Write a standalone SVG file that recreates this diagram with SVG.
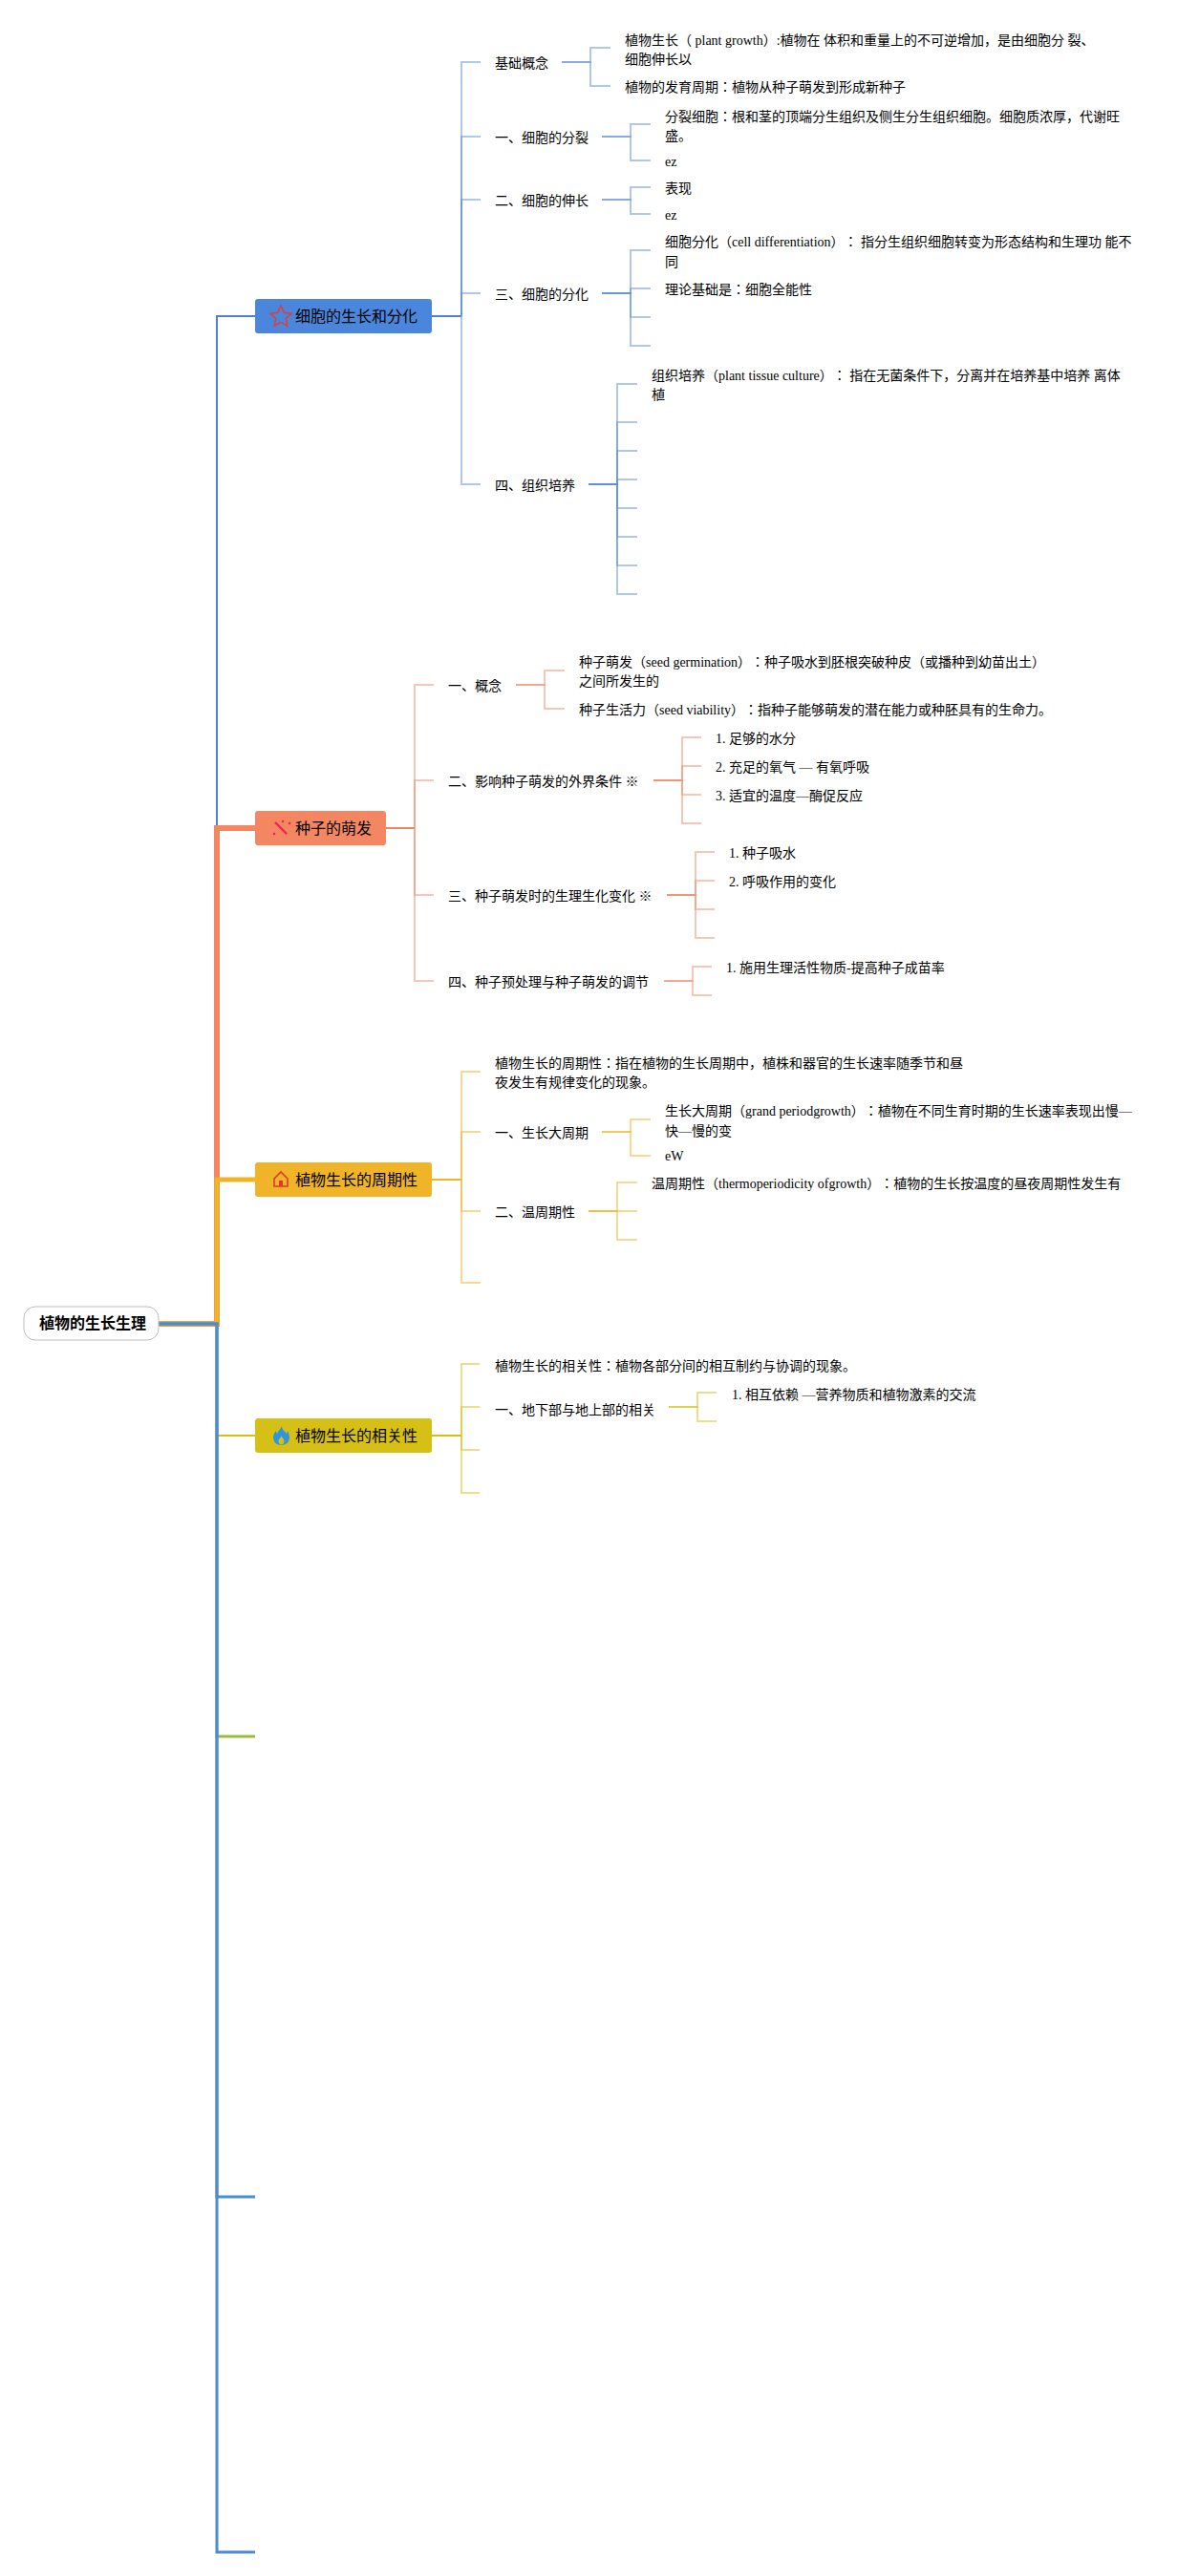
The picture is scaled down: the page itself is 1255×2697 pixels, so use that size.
<svg xmlns="http://www.w3.org/2000/svg" width="1255" height="2697" viewBox="0 0 1255 2697">
<style>
text{font-family:"Liberation Serif","Noto Sans CJK JP",serif;font-size:14px;fill:#000;text-spacing-trim:space-all}
.b{font-family:"Liberation Sans","Noto Sans CJK JP",sans-serif;font-size:16px}
.r{font-family:"Liberation Sans","Noto Sans CJK JP",sans-serif;font-size:16px;font-weight:700;fill:#000}
path{fill:none;stroke-linejoin:miter}
.c1 path{stroke:#5f8fd6;stroke-width:2;stroke-opacity:.5}
.c2 path{stroke:#ee8f6c;stroke-width:2;stroke-opacity:.5}
.c3 path{stroke:#f0b429;stroke-width:2;stroke-opacity:.5}
.c4 path{stroke:#d6c015;stroke-width:2;stroke-opacity:.5}
</style>
<rect width="1255" height="2697" fill="#fff"/>
<g id="connectors">
<g id="trunk">
<path d="M166 1386H227V331H267" stroke="#4f81d0" stroke-width="2"/>
<path d="M166 1386H227V867H267" stroke="#f58662" stroke-width="6"/>
<path d="M166 1386H227V1235H267" stroke="#f0b429" stroke-width="5"/>
<path d="M166 1386H227V1503H267" stroke="#d6c015" stroke-width="2"/>
<path d="M166 1386H227V1818H267" stroke="#9abb3a" stroke-width="3"/>
<path d="M166 1386H227V2300H267" stroke="#4a90d0" stroke-width="3"/>
<path d="M166 1386H227V2672H267" stroke="#4f8bcf" stroke-width="3"/>
</g>
<path d="M452 331H483" stroke="#4f81d0" stroke-width="2"/>
<path d="M404 867H434" stroke="#ee8560" stroke-width="2"/>
<path d="M452 1235H483" stroke="#f0b429" stroke-width="2"/>
<path d="M452 1503H483" stroke="#d6c015" stroke-width="2"/>
<g class="c1">
<path d="M483 331V65H503"/><path d="M483 331V143H503"/><path d="M483 331V209H503"/><path d="M483 331V307H503"/><path d="M483 331V507H503"/>
<path d="M588 65H618V50H639"/><path d="M588 65H618V90H639"/>
<path d="M630 143H660V130H681"/><path d="M630 143H660V168H681"/>
<path d="M630 209H660V196H681"/><path d="M630 209H660V224H681"/>
<path d="M630 307H660V262H681"/><path d="M630 307H660V302H681"/><path d="M630 307H660V332H681"/><path d="M630 307H660V362H681"/>
<path d="M616 507H646V402H667"/><path d="M616 507H646V442H667"/><path d="M616 507H646V472H667"/><path d="M616 507H646V502H667"/><path d="M616 507H646V532H667"/><path d="M616 507H646V562H667"/><path d="M616 507H646V592H667"/><path d="M616 507H646V622H667"/>
</g>
<g class="c2">
<path d="M434 867V717H454"/><path d="M434 867V817H454"/><path d="M434 867V937H454"/><path d="M434 867V1027H454"/>
<path d="M540 717H570V702H591"/><path d="M540 717H570V742H591"/>
<path d="M684 817H714V772H734"/><path d="M684 817H714V802H734"/><path d="M684 817H714V832H734"/><path d="M684 817H714V862H734"/>
<path d="M698 937H728V892H748"/><path d="M698 937H728V922H748"/><path d="M698 937H728V952H748"/><path d="M698 937H728V982H748"/>
<path d="M695 1027H725V1012H745"/><path d="M695 1027H725V1042H745"/>
</g>
<g class="c3">
<path d="M483 1235V1122H503"/><path d="M483 1235V1185H503"/><path d="M483 1235V1268H503"/><path d="M483 1235V1343H503"/>
<path d="M630 1185H660V1172H681"/><path d="M630 1185H660V1210H681"/>
<path d="M616 1268H646V1238H667"/><path d="M616 1268H667"/><path d="M616 1268H646V1298H667"/>
</g>
<g class="c4">
<path d="M483 1503V1428H502"/><path d="M483 1503V1473H502"/><path d="M483 1503V1518H502"/><path d="M483 1503V1563H502"/>
<path d="M700 1473H730V1458H750"/><path d="M700 1473H730V1488H750"/>
</g>
</g>

<g id="root"><rect x="25" y="1368" width="141" height="35" rx="12" fill="#fff" stroke="#bdbdbd"/><text class="r" x="41" y="1391">植物的生长生理</text></g>

<g id="branch-1"><rect x="267" y="313" width="185" height="36" rx="3" fill="#4a86dc"/>
<path d="M294 320l3.4 7.2 7.6 1-5.6 5.3 1.4 7.7-6.8-3.8-6.8 3.8 1.4-7.7-5.6-5.3 7.6-1z" stroke="#d8413f" stroke-width="1.6"/>
<text class="b" x="309" y="337">细胞的生长和分化</text></g>
<g id="branch-2"><rect x="267" y="849" width="137" height="36" rx="3" fill="#f58662"/>
<path d="M288 861l12 12" stroke="#e8264f" stroke-width="2.4"/><path d="M287 873h.1M296 860h.1M303 862h.1" stroke="#e8264f" stroke-width="2.4" stroke-linecap="round"/>
<text class="b" x="309" y="873">种子的萌发</text></g>
<g id="branch-3"><rect x="267" y="1217" width="185" height="36" rx="3" fill="#f0b429"/>
<path d="M287 1234l7-7 7 7v8h-14z" stroke="#e0382f" stroke-width="1.6"/><rect x="292" y="1236" width="4" height="6" fill="#e0382f"/>
<text class="b" x="309" y="1241">植物生长的周期性</text></g>
<g id="branch-4"><rect x="267" y="1485" width="185" height="36" rx="3" fill="#d6c015"/>
<path style="fill:#2f96d8" d="M295 1493c0 4 3 5 5 8 0-1 1-2 1-3 1 2 2 5 2 7 0 5-4 8-8.500 8s-8.500-3-8.500-8c0-3 1.500-5 3-7 0 1 .5 2 1 3 1-3 4-5 5-8z"/>
<path style="fill:#d6c015" d="M294.500 1503c0 2 3 3 3 6 0 2-1.500 3.500-3 3.500s-3-1.500-3-3.500c0-3 3-3.500 3-6z"/>
<text class="b" x="309" y="1509">植物生长的相关性</text></g>

<g id="n1-0"><text x="518" y="71">基础概念</text></g>
<g id="n1-0-a"><text x="654" y="47">植物生长（ plant growth）:植物在 体积和重量上的不可逆增加，是由细胞分 裂、</text><text x="654" y="67">细胞伸长以</text></g>
<g id="n1-0-b"><text x="654" y="96">植物的发育周期：植物从种子萌发到形成新种子</text></g>
<g id="n1-1"><text x="518" y="149">一、细胞的分裂</text></g>
<g id="n1-1-a"><text x="696" y="127">分裂细胞：根和茎的顶端分生组织及侧生分生组织细胞。细胞质浓厚，代谢旺</text><text x="696" y="147">盛。</text></g>
<g id="n1-1-b"><text x="696" y="174">ez</text></g>
<g id="n1-2"><text x="518" y="215">二、细胞的伸长</text></g>
<g id="n1-2-a"><text x="696" y="202">表现</text></g>
<g id="n1-2-b"><text x="696" y="230">ez</text></g>
<g id="n1-3"><text x="518" y="313">三、细胞的分化</text></g>
<g id="n1-3-a"><text x="696" y="258">细胞分化（cell differentiation）： 指分生组织细胞转变为形态结构和生理功 能不</text><text x="696" y="279">同</text></g>
<g id="n1-3-b"><text x="696" y="308">理论基础是：细胞全能性</text></g>
<g id="n1-4"><text x="518" y="513">四、组织培养</text></g>
<g id="n1-4-a"><text x="682" y="398">组织培养（plant tissue culture）： 指在无菌条件下，分离并在培养基中培养 离体</text><text x="682" y="418">植</text></g>

<g id="n2-0"><text x="469" y="723">一、概念</text></g>
<g id="n2-0-a"><text x="606" y="698">种子萌发（seed germination）：种子吸水到胚根突破种皮（或播种到幼苗出土）</text><text x="606" y="718">之间所发生的</text></g>
<g id="n2-0-b"><text x="606" y="748">种子生活力（seed viability）：指种子能够萌发的潜在能力或种胚具有的生命力。</text></g>
<g id="n2-1"><text x="469" y="823">二、影响种子萌发的外界条件 ※</text></g>
<g id="n2-1-a"><text x="749" y="778">1. 足够的水分</text></g>
<g id="n2-1-b"><text x="749" y="808">2. 充足的氧气 — 有氧呼吸</text></g>
<g id="n2-1-c"><text x="749" y="838">3. 适宜的温度—酶促反应</text></g>
<g id="n2-2"><text x="469" y="943">三、种子萌发时的生理生化变化 ※</text></g>
<g id="n2-2-a"><text x="763" y="898">1. 种子吸水</text></g>
<g id="n2-2-b"><text x="763" y="928">2. 呼吸作用的变化</text></g>
<g id="n2-3"><text x="469" y="1033">四、种子预处理与种子萌发的调节</text></g>
<g id="n2-3-a"><text x="760" y="1018">1. 施用生理活性物质-提高种子成苗率</text></g>

<g id="n3-0"><text x="518" y="1118">植物生长的周期性：指在植物的生长周期中，植株和器官的生长速率随季节和昼</text><text x="518" y="1138">夜发生有规律变化的现象。</text></g>
<g id="n3-1"><text x="518" y="1191">一、生长大周期</text></g>
<g id="n3-1-a"><text x="696" y="1168">生长大周期（grand periodgrowth）：植物在不同生育时期的生长速率表现出慢—</text><text x="696" y="1189">快—慢的变</text></g>
<g id="n3-1-b"><text x="696" y="1215">eW</text></g>
<g id="n3-2"><text x="518" y="1274">二、温周期性</text></g>
<g id="n3-2-a"><text x="682" y="1244">温周期性（thermoperiodicity ofgrowth）：植物的生长按温度的昼夜周期性发生有</text></g>

<g id="n4-0"><text x="518" y="1435">植物生长的相关性：植物各部分间的相互制约与协调的现象。</text></g>
<g id="n4-1"><text x="518" y="1481">一、地下部与地上部的相关</text></g>
<g id="n4-1-a"><text x="766" y="1465">1. 相互依赖 —营养物质和植物激素的交流</text></g>
</svg>
